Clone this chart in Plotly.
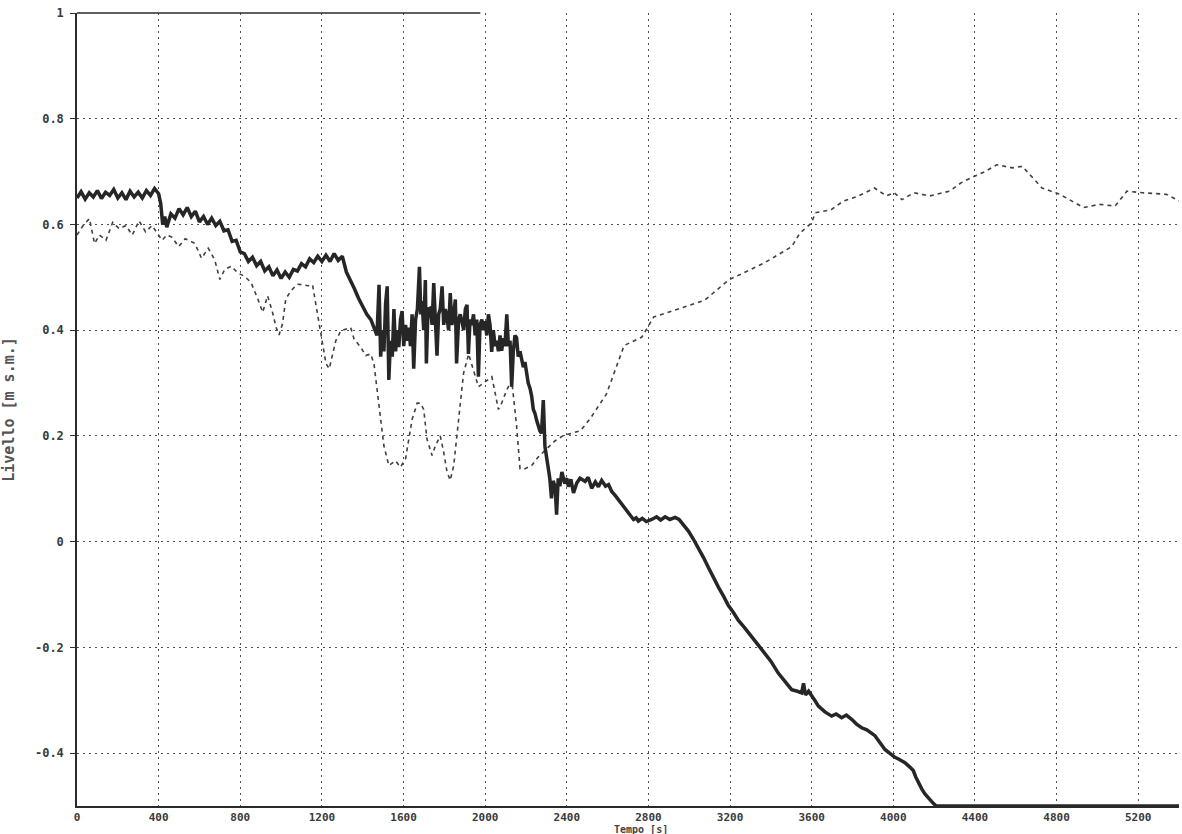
import plotly.graph_objects as go

# Measured level (solid, noisy) - time [s]
t_meas = [0, 20, 40, 60, 80, 100, 120, 140, 160, 180, 200, 220, 240, 260, 280, 300, 320, 340, 360, 380, 400,
          410, 420, 430, 440, 460, 480, 500, 520, 540, 560, 580, 600, 620, 640, 660, 680, 700, 720, 740, 760,
          780, 800, 820, 840, 860, 880, 900, 920, 940, 960, 980, 1000, 1020, 1040, 1060, 1080, 1100, 1120,
          1140, 1160, 1180, 1200, 1220, 1240, 1260, 1280, 1300, 1320, 1340, 1360, 1380, 1400, 1420, 1440, 1460,
          1470, 1480, 1488, 1496, 1504, 1512, 1520, 1528, 1536, 1545, 1553, 1561, 1570, 1577, 1585, 1593, 1601,
          1610, 1618, 1626, 1634, 1642, 1650, 1659, 1668, 1678, 1685, 1691, 1699, 1707, 1712, 1720, 1732, 1740,
          1748, 1756, 1764, 1772, 1780, 1789, 1797, 1805, 1813, 1821, 1829, 1837, 1846, 1854, 1860, 1870, 1878,
          1886, 1895, 1903, 1911, 1918, 1926, 1935, 1943, 1951, 1959, 1967, 1975, 1984, 1992, 2000, 2008, 2016,
          2024, 2032, 2040, 2049, 2057, 2065, 2073, 2081, 2089, 2097, 2106, 2114, 2122, 2130, 2138, 2146, 2154,
          2162, 2171, 2179, 2187, 2195, 2203, 2211, 2220, 2228, 2236, 2244, 2252, 2260, 2268, 2276, 2285, 2293,
          2301, 2309, 2317, 2325, 2333, 2343, 2350, 2358, 2366, 2376, 2390, 2400, 2408, 2420, 2433, 2449, 2465,
          2490, 2505, 2522, 2540, 2555, 2571, 2590, 2605, 2620, 2636, 2653, 2670, 2686, 2705, 2727, 2740, 2751,
          2770, 2790, 2816, 2840, 2860, 2882, 2905, 2931, 2950, 2963, 2980, 2996, 3020, 3045, 3070, 3094, 3118,
          3143, 3168, 3192, 3215, 3241, 3270, 3306, 3340, 3371, 3400, 3437, 3470, 3502, 3530, 3551, 3560, 3570,
          3585, 3600, 3615, 3633, 3665, 3698, 3720, 3747, 3770, 3796, 3820, 3845, 3870, 3910, 3935, 3959, 3985,
          4008, 4030, 4057, 4080, 4098, 4110, 4122, 4140, 4155, 4175, 4196, 4210, 5400]
v_meas = [0.650, 0.662, 0.648, 0.660, 0.652, 0.664, 0.649, 0.661, 0.655, 0.666, 0.650, 0.660, 0.647, 0.663,
          0.652, 0.661, 0.650, 0.664, 0.655, 0.668, 0.658,
          0.640, 0.600, 0.615, 0.595, 0.620, 0.612, 0.630, 0.618, 0.632, 0.615, 0.625, 0.605, 0.615, 0.600,
          0.612, 0.598, 0.606, 0.588, 0.590, 0.568, 0.570, 0.548, 0.545, 0.530, 0.538, 0.522, 0.530, 0.512,
          0.520, 0.503, 0.514, 0.498, 0.510, 0.500, 0.515, 0.512, 0.526, 0.520, 0.535, 0.528, 0.540, 0.530,
          0.542, 0.530, 0.545, 0.532, 0.540, 0.510, 0.495, 0.478, 0.460, 0.445, 0.430, 0.420, 0.400,
          0.390, 0.486, 0.350, 0.400, 0.360, 0.450, 0.483, 0.306, 0.380, 0.350, 0.440, 0.360, 0.400, 0.368,
          0.420, 0.436, 0.370, 0.410, 0.380, 0.405, 0.370, 0.430, 0.327, 0.420, 0.440, 0.520, 0.430, 0.455,
          0.400, 0.495, 0.337, 0.440, 0.442, 0.410, 0.489, 0.420, 0.352, 0.430, 0.440, 0.483, 0.410, 0.440,
          0.425, 0.400, 0.470, 0.410, 0.430, 0.458, 0.337, 0.420, 0.430, 0.417, 0.400, 0.440, 0.448, 0.355,
          0.420, 0.410, 0.430, 0.390, 0.420, 0.312, 0.410, 0.420, 0.400, 0.417, 0.390, 0.430, 0.410, 0.359,
          0.400, 0.370, 0.380, 0.360, 0.390, 0.361, 0.385, 0.370, 0.430, 0.370, 0.380, 0.293, 0.360, 0.390,
          0.386, 0.350, 0.360, 0.345, 0.330, 0.340, 0.318, 0.300, 0.290, 0.275, 0.250, 0.243, 0.230, 0.219,
          0.210, 0.205, 0.268, 0.180, 0.163, 0.140, 0.119, 0.082, 0.115, 0.104, 0.051, 0.120, 0.105, 0.132,
          0.110, 0.120, 0.104, 0.118, 0.092, 0.111, 0.120, 0.114, 0.122, 0.101, 0.113, 0.104, 0.116, 0.105,
          0.108, 0.095, 0.088, 0.079, 0.070, 0.061, 0.052, 0.042, 0.045, 0.039, 0.044, 0.038, 0.042, 0.047,
          0.041, 0.047, 0.042, 0.046, 0.042, 0.036, 0.028, 0.020, 0.005, -0.011, -0.030, -0.049, -0.068,
          -0.086, -0.103, -0.121, -0.133, -0.149, -0.162, -0.180, -0.196, -0.211, -0.226, -0.249, -0.266,
          -0.280, -0.283, -0.286, -0.268, -0.290, -0.283, -0.293, -0.300, -0.311, -0.322, -0.330, -0.326,
          -0.333, -0.328, -0.336, -0.345, -0.352, -0.356, -0.367, -0.380, -0.393, -0.401, -0.408, -0.412,
          -0.418, -0.426, -0.433, -0.445, -0.455, -0.468, -0.477, -0.487, -0.495, -0.500, -0.500]

# Second level (dashed / dotted)
t_sec = [0, 13, 30, 61, 86, 110, 142, 175, 207, 239, 271, 304, 336, 368, 400, 417, 440, 465, 498, 530, 578,
         610, 643, 675, 700, 724, 756, 789, 821, 853, 886, 910, 934, 958, 975, 990, 1007, 1023, 1047, 1080,
         1106, 1130, 1154, 1171, 1187, 1203, 1220, 1236, 1252, 1268, 1293, 1317, 1341, 1358, 1390, 1415,
         1439, 1455, 1467, 1480, 1493, 1504, 1528, 1561, 1585, 1610, 1626, 1642, 1667, 1683, 1699, 1715,
         1740, 1756, 1780, 1797, 1813, 1829, 1846, 1862, 1878, 1894, 1919, 1943, 1967, 1992, 2033, 2065,
         2081, 2106, 2130, 2154, 2171, 2195, 2228, 2260, 2300, 2340, 2380, 2420, 2468, 2517, 2594, 2681,
         2768, 2826, 2884, 3077, 3193, 3367, 3502, 3541, 3599, 3618, 3696, 3754, 3831, 3908, 3966, 4004,
         4043, 4101, 4178, 4275, 4333, 4391, 4449, 4507, 4584, 4632, 4681, 4729, 4816, 4874, 4932, 5009,
         5087, 5145, 5222, 5338, 5386, 5400]
v_sec = [0.580, 0.589, 0.598, 0.611, 0.564, 0.580, 0.570, 0.604, 0.592, 0.598, 0.580, 0.607, 0.586, 0.598,
         0.580, 0.570, 0.580, 0.576, 0.558, 0.573, 0.564, 0.536, 0.555, 0.533, 0.496, 0.515, 0.521, 0.508,
         0.502, 0.490, 0.459, 0.434, 0.465, 0.434, 0.406, 0.391, 0.412, 0.459, 0.474, 0.487, 0.486, 0.484,
         0.486, 0.448, 0.411, 0.380, 0.337, 0.327, 0.355, 0.380, 0.399, 0.402, 0.405, 0.383, 0.368, 0.352,
         0.355, 0.337, 0.300, 0.256, 0.212, 0.181, 0.144, 0.153, 0.141, 0.157, 0.194, 0.231, 0.262, 0.262,
         0.250, 0.194, 0.163, 0.181, 0.200, 0.169, 0.132, 0.116, 0.144, 0.200, 0.256, 0.318, 0.355, 0.324,
         0.293, 0.300, 0.312, 0.250, 0.262, 0.287, 0.306, 0.219, 0.138, 0.138, 0.144, 0.160, 0.175, 0.190,
         0.200, 0.205, 0.210, 0.234, 0.279, 0.371, 0.387, 0.425, 0.432, 0.457, 0.495, 0.527, 0.558, 0.583,
         0.603, 0.622, 0.628, 0.644, 0.654, 0.669, 0.654, 0.660, 0.647, 0.660, 0.654, 0.663, 0.679, 0.690,
         0.700, 0.713, 0.707, 0.710, 0.690, 0.669, 0.657, 0.644, 0.632, 0.638, 0.635, 0.663, 0.660, 0.657,
         0.647, 0.645]

x_ticks = [0, 400, 800, 1200, 1600, 2000, 2400, 2800, 3200, 3600, 4000, 4400, 4800, 5200]
x_labels = [str(v) for v in x_ticks]
y_ticks = [-0.4, -0.2, 0, 0.2, 0.4, 0.6, 0.8, 1]
y_labels = ["-0.4", "-0.2", "0", "0.2", "0.4", "0.6", "0.8", "1"]

fig = go.Figure()
fig.add_trace(go.Scatter(x=t_sec, y=v_sec, mode="lines",
                         line=dict(color="#404040", width=1.6, dash="4px,4px"),
                         showlegend=False))
fig.add_trace(go.Scatter(x=t_meas, y=v_meas, mode="lines",
                         line=dict(color="#262626", width=3.5),
                         showlegend=False))

xtickfont = dict(family="DejaVu Sans Mono", size=11, color="#3a3a3a", weight="bold")
ytickfont = dict(family="DejaVu Sans Mono", size=12, color="#3a3a3a", weight="bold")
fig.update_layout(
    width=1182, height=834,
    margin=dict(l=77, r=3, t=13, b=28),
    paper_bgcolor="white", plot_bgcolor="white",
    xaxis=dict(range=[0, 5400], tickvals=x_ticks, ticktext=x_labels, tickfont=xtickfont,
               showgrid=True, gridcolor="#505050", gridwidth=1, griddash="2px,4px",
               showline=True, linecolor="#2a2a2a", linewidth=1.5, zeroline=False,
               ticks="", ticklabelstandoff=0),
    yaxis=dict(range=[-0.5, 1], tickvals=y_ticks, ticktext=y_labels, tickfont=ytickfont,
               showgrid=True, gridcolor="#505050", gridwidth=1, griddash="2px,4px",
               showline=True, linecolor="#2a2a2a", linewidth=1.5, zeroline=False,
               ticks="outside", ticklen=5, tickcolor="#333333", ticklabelstandoff=4,
               title=dict(text="Livello [m s.m.]", standoff=18,
                          font=dict(family="DejaVu Sans Mono", size=15, color="#555555", weight="bold"))),
    shapes=[dict(type="line", xref="paper", yref="paper", x0=0, x1=0.366, y0=1, y1=1,
                 line=dict(color="#2a2a2a", width=1.5))],
    annotations=[dict(text="Tempo [s]", xref="paper", yref="paper", x=0.512, y=0, yshift=-23,
                      showarrow=False, xanchor="center", yanchor="middle",
                      font=dict(family="DejaVu Sans Mono", size=10, color="#444444", weight="bold"))],
)

fig.write_html("out.html")
